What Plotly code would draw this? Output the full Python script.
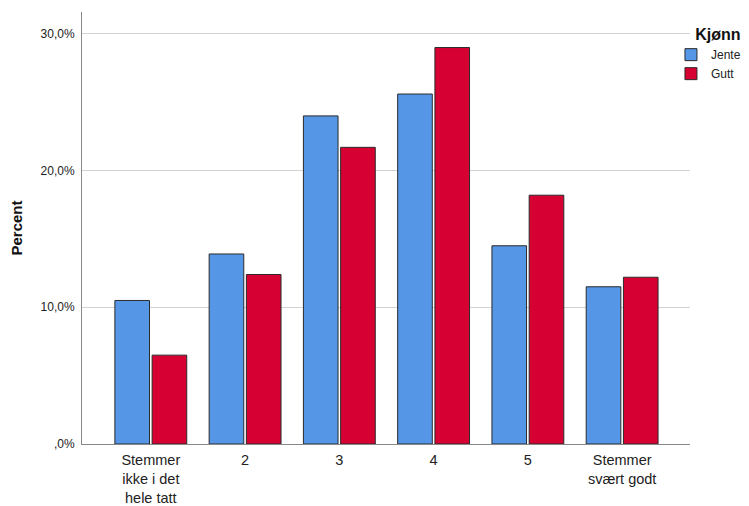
import plotly.graph_objects as go

categories = ["Stemmer<br>ikke i det<br>hele tatt", "2", "3", "4", "5", "Stemmer<br>svært godt"]
series_names = ["Jente", "Gutt"]
jente = [10.5, 13.9, 24.0, 25.6, 14.5, 11.5]
gutt = [6.5, 12.4, 21.7, 29.0, 18.2, 12.2]
tick_vals = [0, 10, 20, 30]
tick_text = [",0%", "10,0%", "20,0%", "30,0%"]
legend_title = "Kjønn"

FONT = "Liberation Sans, Arial, sans-serif"
x_idx = list(range(len(categories)))

fig = go.Figure()
fig.add_trace(go.Bar(x=x_idx, y=jente, name=series_names[0],
                     marker=dict(color="#5596E6", line=dict(color="#2b2b2b", width=1))))
fig.add_trace(go.Bar(x=x_idx, y=gutt, name=series_names[1],
                     marker=dict(color="#D60032", line=dict(color="#2b2b2b", width=1))))

# page has an 8px body margin: figure 741x498 fills the 749x506 window
fig.update_layout(
    width=741, height=498,
    margin=dict(l=74, r=0, t=4, b=62, autoexpand=False),
    paper_bgcolor="white", plot_bgcolor="white",
    barmode="group", bargap=0.21, bargroupgap=0.07,
    font=dict(family=FONT, color="#222"),
    showlegend=True,
    legend=dict(
        title=dict(text="\u00a0\u00a0\u00a0\u00a0\u00a0<b>" + legend_title + "</b>",
                   font=dict(size=16, family=FONT, color="#111")),
        x=0.883, xanchor="left", y=0.983, yanchor="top",
        font=dict(size=12, family=FONT, color="#222"),
        itemwidth=30, tracegroupgap=0, bgcolor="rgba(0,0,0,0)",
    ),
    xaxis=dict(
        domain=[0, 608 / 667],
        tickmode="array", tickvals=x_idx, ticktext=categories,
        range=[-0.73, 5.72], showgrid=False, showline=True,
        linecolor="#888", linewidth=1, ticks="", zeroline=False,
        automargin=False, ticklabelstandoff=3,
        tickfont=dict(size=14.5, family=FONT, color="#222"),
    ),
    yaxis=dict(
        range=[0, 31.6], tickmode="array", tickvals=tick_vals, ticktext=tick_text,
        showgrid=True, gridcolor="#d3d3d3", gridwidth=1,
        showline=True, linecolor="#888", linewidth=1, ticks="",
        zeroline=False, automargin=False, ticklabelstandoff=4,
        tickfont=dict(size=12, family=FONT, color="#222"),
        title=dict(text="<b>Percent</b>", font=dict(size=15, family=FONT, color="#111"), standoff=14),
    ),
)

fig.write_html("out.html")
